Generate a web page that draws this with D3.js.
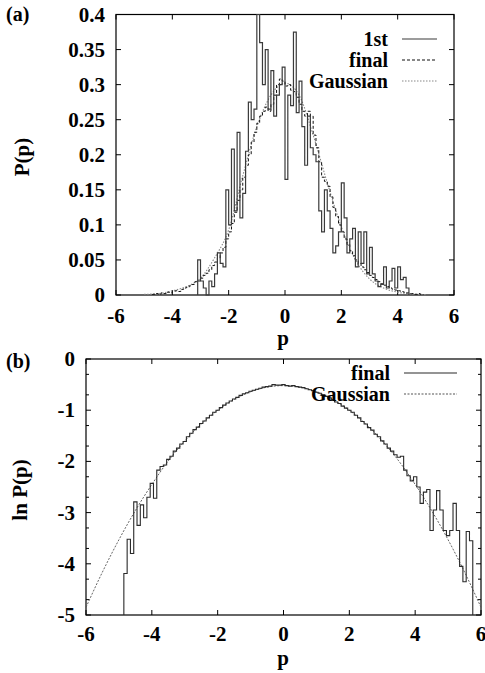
<!DOCTYPE html>
<html>
<head>
<meta charset="utf-8">
<script src="https://cdn.jsdelivr.net/npm/d3@7"></script>
<style>
  body { margin: 0; background: #fff; }
  text { font-family: "Liberation Serif", "Times New Roman", serif; font-weight: bold; }
</style>
</head>
<body>
<script>
// ---- data ----
// panel (a): histograms, bin width 0.1, first bin start
var firstStart = -3.1;
var firstVals = [0.050,0.020,0.010,0.000,0.020,0.012,0.030,0.060,0.045,0.040,
  0.150,0.100,0.208,0.120,0.232,0.110,0.145,0.205,0.275,0.250,
  0.265,0.400,0.360,0.300,0.350,0.265,0.320,0.255,0.285,0.300,
  0.325,0.165,0.285,0.270,0.375,0.260,0.305,0.240,0.185,0.255,
  0.210,0.200,0.190,0.120,0.090,0.150,0.120,0.095,0.060,0.070,
  0.090,0.160,0.110,0.060,0.080,0.095,0.040,0.090,0.045,0.090,
  0.030,0.068,0.030,0.020,0.012,0.015,0.040,0.010,0.020,0.038,
  0.010,0.040,0.022,0.025,0.010];
var finalStart = -4.7;
var finalVals = [0.001,0.002,0.001,0.003,0.002,0.004,0.003,0.005,0.006,0.005,
  0.008,0.010,0.011,0.013,0.015,0.019,0.020,0.024,0.028,0.031,
  0.036,0.042,0.047,0.053,0.060,0.068,0.080,0.090,0.102,0.118,
  0.135,0.150,0.168,0.185,0.200,0.218,0.232,0.245,0.255,0.262,
  0.268,0.262,0.272,0.285,0.300,0.308,0.305,0.298,0.300,0.292,
  0.290,0.282,0.272,0.262,0.255,0.262,0.255,0.228,0.210,0.190,
  0.168,0.162,0.155,0.140,0.125,0.112,0.100,0.090,0.080,0.072,
  0.063,0.056,0.050,0.045,0.040,0.036,0.032,0.028,0.025,0.022,
  0.019,0.016,0.014,0.012,0.010,0.008,0.007,0.006,0.005,0.004,
  0.003,0.002,0.002,0.001,0.002,0.001];
var gaussP = [-5,-4.5,-4,-3.5,-3,-2.5,-2,-1.5,-1,-0.5,0,0.5,1,1.5,2,2.5,3,3.5,4,4.5,5];
var gaussA = [0.001,0.002,0.006,0.012,0.024,0.053,0.093,0.170,0.240,0.285,0.302,
  0.285,0.228,0.160,0.097,0.050,0.023,0.010,0.004,0.0015,0.0005];

// panel (b): ln P(p)
var lnStart = -4.85;
var lnVals = [-4.19,-3.52,-3.80,-2.79,-3.25,-2.85,-3.10,-2.70,-2.43,-2.72,
  -2.17,-2.10,-2.07,-1.96,-1.90,-1.80,-1.74,-1.66,-1.61,-1.52,
  -1.45,-1.38,-1.33,-1.26,-1.21,-1.15,-1.10,-1.04,-1.00,-0.95,
  -0.90,-0.86,-0.82,-0.78,-0.75,-0.71,-0.68,-0.66,-0.63,-0.61,
  -0.59,-0.57,-0.55,-0.54,-0.53,-0.50,-0.51,-0.51,-0.50,-0.52,
  -0.53,-0.52,-0.54,-0.55,-0.56,-0.58,-0.60,-0.62,-0.65,-0.67,
  -0.70,-0.73,-0.76,-0.80,-0.84,-0.87,-0.92,-0.96,-1.00,-1.04,
  -1.10,-1.15,-1.22,-1.27,-1.34,-1.39,-1.47,-1.52,-1.60,-1.66,
  -1.74,-1.80,-1.87,-1.92,-1.90,-2.17,-2.28,-2.38,-2.30,-2.50,
  -2.82,-2.60,-2.55,-3.35,-2.95,-2.57,-2.95,-3.35,-3.45,-3.35,
  -2.82,-3.35,-4.05,-4.35,-3.37,-3.55];
var lnGaussP = [-6,-5.5,-5,-4.5,-4,-3.5,-3,-2.5,-2,-1.5,-1,-0.5,0,0.5,1,1.5,2,2.5,3,3.5,4,4.5,5,5.5,6];
var lnGauss = [-4.85,-4.16,-3.53,-2.96,-2.45,-1.99,-1.60,-1.27,-1.00,-0.79,-0.64,-0.55,-0.52,
  -0.55,-0.64,-0.79,-1.00,-1.27,-1.60,-1.99,-2.45,-2.96,-3.53,-4.16,-4.85];

var xTicks = [-6,-4,-2,0,2,4,6];
var yTicksA = [0,0.05,0.1,0.15,0.2,0.25,0.3,0.35,0.4];
var yTicksB = [0,-1,-2,-3,-4,-5];

var W = 485, H = 673;
var svg = d3.select("body").append("svg").attr("width", W).attr("height", H);

// turns bins into corner points of a step outline
function steps(start, vals, base){
  var w = 0.1, pts = [[start, base]];
  vals.forEach(function(v, i){
    pts.push([start + i*w, v]);
    pts.push([start + (i+1)*w, v]);
  });
  pts.push([start + vals.length*w, base]);
  return pts;
}

function frame(x, y, yTicks, minor, fmt, labelDy){
  var x0 = x.range()[0], x1 = x.range()[1];
  var y0 = y.range()[0], y1 = y.range()[1];
  var g = svg.append("g");
  g.append("rect").attr("x", x0).attr("y", y1).attr("width", x1-x0).attr("height", y0-y1)
    .attr("fill", "none").attr("stroke", "#000").attr("stroke-width", 1.2);
  // x ticks bottom + top
  g.selectAll(".xt").data(xTicks).enter().append("path")
    .attr("d", d => `M${x(d)},${y0}v-5M${x(d)},${y1}v5`)
    .attr("stroke", "#000");
  g.selectAll(".xl").data(xTicks).enter().append("text")
    .attr("x", d => x(d)).attr("y", y0 + labelDy)
    .attr("text-anchor", "middle").attr("font-size", 21)
    .text(d => d);
  g.selectAll(".yt").data(yTicks).enter().append("path")
    .attr("d", d => `M${x0},${y(d)}h5M${x1},${y(d)}h-5`)
    .attr("stroke", "#000");
  g.selectAll(".ym").data(minor).enter().append("path")
    .attr("d", d => `M${x0},${y(d)}h3M${x1},${y(d)}h-3`)
    .attr("stroke", "#000");
  g.selectAll(".yl").data(yTicks).enter().append("text")
    .attr("x", x0 - 11).attr("y", d => y(d) + 7)
    .attr("text-anchor", "end").attr("font-size", 21)
    .text(fmt);
}

////////////// panel (a) //////////////
var xa = d3.scaleLinear().domain([-6, 6]).range([116, 454]);
var ya = d3.scaleLinear().domain([0, 0.4]).range([295, 14.5]);
frame(xa, ya, yTicksA, [], d => d3.format("")(d), 28);

var lineA = d3.line().x(d => xa(d[0])).y(d => ya(d[1]));

svg.append("path").attr("d", d3.line().x(d => xa(d[0])).y(d => ya(d[1])).curve(d3.curveMonotoneX)(gaussP.map((p, i) => [p, gaussA[i]])))
  .attr("fill", "none").attr("stroke", "#888").attr("stroke-width", 1.1)
  .attr("stroke-dasharray", "1.5,1.5");
svg.append("path").attr("d", lineA(steps(finalStart, finalVals, 0)))
  .attr("fill", "none").attr("stroke", "#111").attr("stroke-width", 1)
  .attr("stroke-dasharray", "3,2");
svg.append("path").attr("d", lineA(steps(firstStart, firstVals, 0)))
  .attr("fill", "none").attr("stroke", "#3a3a3a").attr("stroke-width", 1.2);

// legend (a)
var legA = [["1st", "none", "#3a3a3a"], ["final", "3,2", "#111"], ["Gaussian", "1.5,1.5", "#888"]];
legA.forEach(function(l, i){
  var yy = 39 + i*21;
  svg.append("text").attr("x", 388).attr("y", yy + 7).attr("text-anchor", "end")
    .attr("font-size", 20).text(l[0]);
  svg.append("line").attr("x1", 402).attr("x2", 437).attr("y1", yy).attr("y2", yy)
    .attr("stroke", l[2]).attr("stroke-width", 1.2).attr("stroke-dasharray", l[1]);
});

svg.append("text").attr("x", 283).attr("y", 345).attr("text-anchor", "middle").attr("font-size", 21).text("p");
svg.append("text").attr("transform", "translate(29,157) rotate(-90)").attr("text-anchor", "middle")
  .attr("font-size", 21).text("P(p)");
svg.append("text").attr("x", 6).attr("y", 21).attr("font-size", 20).text("(a)");

////////////// panel (b) //////////////
var xb = d3.scaleLinear().domain([-6, 6]).range([86, 481]);
var yb = d3.scaleLinear().domain([-5, 0]).range([615, 359]);
var minorB = [];
yTicksB.slice(0, 5).forEach(d => { minorB.push(d - 0.3); minorB.push(d - 0.7); });
frame(xb, yb, yTicksB, minorB, d => d, 26);

var lineB = d3.line().x(d => xb(d[0])).y(d => yb(d[1]));
svg.append("path").attr("d", d3.line().x(d => xb(d[0])).y(d => yb(d[1])).curve(d3.curveMonotoneX)(lnGaussP.map((p, i) => [p, lnGauss[i]])))
  .attr("fill", "none").attr("stroke", "#555").attr("stroke-width", 0.9)
  .attr("stroke-dasharray", "2,1.5");
svg.append("path").attr("d", lineB(steps(lnStart, lnVals, -5)))
  .attr("fill", "none").attr("stroke", "#2a2a2a").attr("stroke-width", 1.1);

var legB = [["final", "none", "#2a2a2a"], ["Gaussian", "2,1.5", "#555"]];
legB.forEach(function(l, i){
  var yy = 373 + i*21;
  svg.append("text").attr("x", 390).attr("y", yy + 7).attr("text-anchor", "end")
    .attr("font-size", 20).text(l[0]);
  svg.append("line").attr("x1", 404).attr("x2", 457).attr("y1", yy).attr("y2", yy)
    .attr("stroke", l[2]).attr("stroke-width", 1.2).attr("stroke-dasharray", l[1]);
});

svg.append("text").attr("x", 283).attr("y", 665).attr("text-anchor", "middle").attr("font-size", 21).text("p");
svg.append("text").attr("transform", "translate(27,490) rotate(-90)").attr("text-anchor", "middle")
  .attr("font-size", 21).text("ln P(p)");
svg.append("text").attr("x", 6).attr("y", 368).attr("font-size", 20).text("(b)");
</script>
</body>
</html>
